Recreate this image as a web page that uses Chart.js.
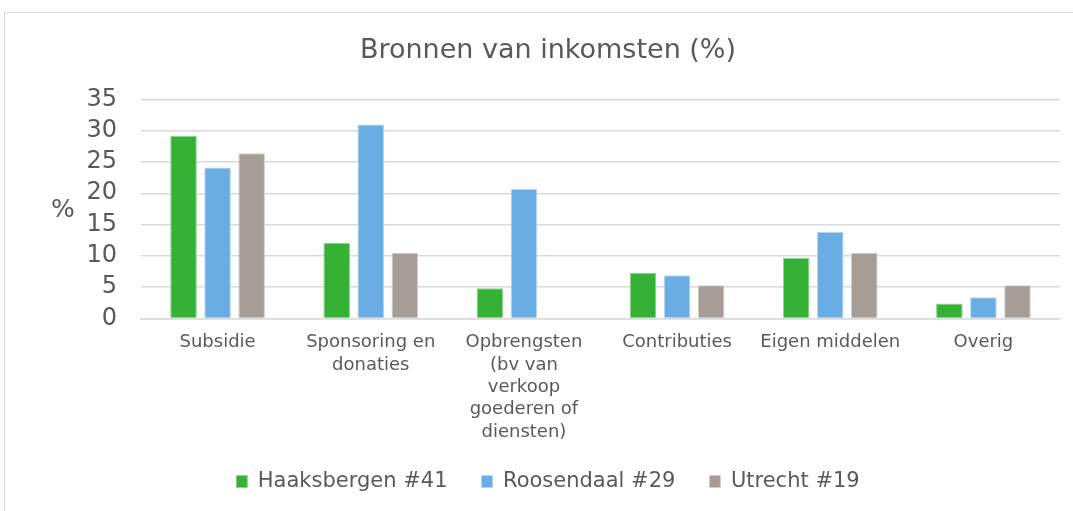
<!DOCTYPE html>
<html>
<head>
<meta charset="utf-8">
<script src="https://cdn.jsdelivr.net/npm/chart.js@4"></script>
<style>
    html, body { margin: 0; padding: 0; background: #fff; overflow: hidden; }
    .frame { position: absolute; left: 4px; top: 12px; width: 1090px; height: 505px; border: 1px solid #d9d9d9; box-sizing: border-box; }
</style>
</head>
<body>
<div class="frame">
    <canvas id="incomeChart"></canvas>
</div>
<script>
const categories = [
    'Subsidie',
    ['Sponsoring en', 'donaties'],
    ['Opbrengsten', '(bv van', 'verkoop', 'goederen of', 'diensten)'],
    'Contributies',
    'Eigen middelen',
    'Overig'
];
const seriesNames = ['Haaksbergen #41', 'Roosendaal #29', 'Utrecht #19'];
const haaksbergen = [29.2, 12.1, 4.8, 7.3, 9.7, 2.4];
const roosendaal = [24.1, 31.0, 20.7, 6.9, 13.8, 3.4];
const utrecht = [26.4, 10.5, null, 5.3, 10.5, 5.3];
const yTicks = [0, 5, 10, 15, 20, 25, 30, 35];

const textColor = '#595959';
const font = "'DejaVu Sans', Verdana, sans-serif";

// draws the horizontal "%" axis label left of the ticks
const percentLabel = {
    id: 'percentLabel',
    afterDraw(chart) {
        const { ctx, chartArea } = chart;
        ctx.save();
        ctx.font = `25px ${font}`;
        ctx.fillStyle = textColor;
        ctx.textAlign = 'center';
        ctx.textBaseline = 'middle';
        ctx.fillText('%', 58, (chartArea.top + chartArea.bottom) / 2 + 2);
        ctx.restore();
    }
};

// legend sits a bit higher than the layout puts it
const liftLegend = {
    id: 'liftLegend',
    afterLayout(chart) {
        chart.legend.top -= 11;
        chart.legend.bottom -= 11;
    }
};

new Chart(document.getElementById('incomeChart'), {
    type: 'bar',
    data: {
        labels: categories,
        datasets: [
            { label: seriesNames[0], data: haaksbergen, backgroundColor: '#35b135', borderColor: '#8fd48f', borderWidth: 1 },
            { label: seriesNames[1], data: roosendaal, backgroundColor: '#6aade4', borderColor: '#b3d6f2', borderWidth: 1 },
            { label: seriesNames[2], data: utrecht, backgroundColor: '#a59d96', borderColor: '#d2ceca', borderWidth: 1 }
        ]
    },
    options: {
        responsive: true,
        maintainAspectRatio: false,
        animation: false,
        categoryPercentage: 0.667,
        barPercentage: 0.78,
        layout: { padding: { left: 31, right: 33, bottom: 3 } },
        plugins: {
            title: {
                display: true,
                text: 'Bronnen van inkomsten (%)',
                color: textColor,
                font: { family: font, size: 27, weight: 'normal', lineHeight: 1.2 },
                padding: { top: 22, bottom: 32 }
            },
            legend: {
                position: 'bottom',
                labels: {
                    color: textColor,
                    font: { family: font, size: 21 },
                    boxWidth: 11,
                    boxHeight: 12,
                    padding: 34
                }
            },
            tooltip: { enabled: false }
        },
        scales: {
            x: {
                grid: { display: false },
                border: { color: '#d9d9d9', width: 1.5 },
                ticks: {
                    color: textColor,
                    font: { family: font, size: 18, lineHeight: 1.24 },
                    maxRotation: 0,
                    autoSkip: false,
                    padding: 5
                }
            },
            y: {
                min: 0,
                max: 35,
                afterBuildTicks(scale) {
                    scale.ticks = yTicks.map(v => ({ value: v }));
                },
                afterFit(scale) {
                    scale.width = 105;
                },
                grid: { color: '#d9d9d9', lineWidth: 1.5, drawTicks: false },
                border: { display: false },
                ticks: {
                    color: textColor,
                    font: { family: font, size: 24 },
                    autoSkip: false,
                    padding: 24
                }
            }
        }
    },
    plugins: [percentLabel, liftLegend]
});
</script>
</body>
</html>
